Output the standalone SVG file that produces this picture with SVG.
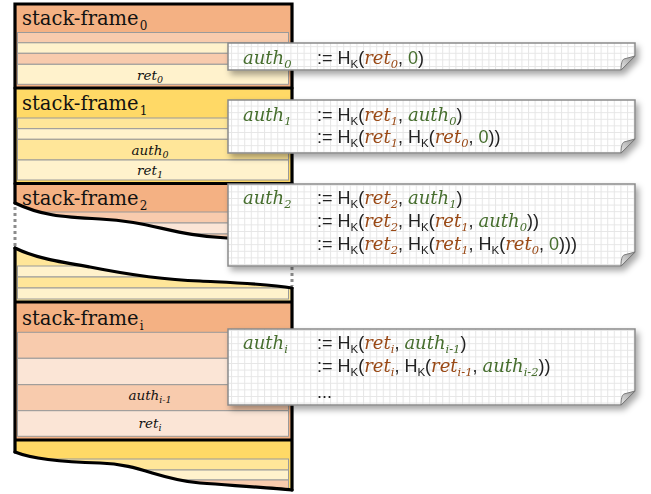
<svg xmlns="http://www.w3.org/2000/svg" width="651" height="494" viewBox="0 0 651 494">
<style>
.ln{fill:none;stroke:#000;stroke-width:3.2;stroke-linecap:round}
.row{stroke:#9a9a9a;stroke-width:1}
.o{fill:#F4B183}.p{fill:#F8CBAD}.pl{fill:#FBE5D6}.y{fill:#FFD966}.yl{fill:#FFE699}.c{fill:#FFF2CC}
.lbl{font-family:'DejaVu Serif',serif;font-size:19.5px;fill:#111}
.rl{font-family:'DejaVu Serif',serif;font-style:italic;font-size:13.5px;fill:#111}
.eq{font-family:'Liberation Sans',sans-serif;font-size:18px;fill:#222}
.it{font-family:'DejaVu Serif',serif;font-style:italic}
.g{fill:#466e2e}.b{fill:#9a4a17}
.note{fill:url(#grid);stroke:#8a8a8a;stroke-width:1.5}
.flap{fill:url(#fg);stroke:#7a7a7a;stroke-width:1}
.dot{stroke:#8c8c8c;stroke-width:3;stroke-dasharray:3 3}
</style>
<defs>
<pattern id="grid" patternUnits="userSpaceOnUse" width="6.6" height="6.6">
<rect width="6.6" height="6.6" fill="#fff"/>
<path d="M0,0.5H6.6M0.5,0V6.6" stroke="#e6e6e6" stroke-width="1"/>
</pattern>
<linearGradient id="fg" x1="0" y1="1" x2="1" y2="0">
<stop offset="0" stop-color="#e8e8e8"/><stop offset="1" stop-color="#999"/>
</linearGradient>
<filter id="sh" x="-5%" y="-20%" width="115%" height="160%">
<feDropShadow dx="3" dy="4" stdDeviation="3" flood-color="#000" flood-opacity="0.35"/>
</filter>
<clipPath id="c2"><path d="M15,183.5H292V240C270,240 250,239 227,238C175,236 150,221 100,219C60,217 40,215 15,203Z"/></clipPath>
<clipPath id="c3"><path d="M15,248C35,258 60,262 90,267C130,275 170,280 200,281C240,283 270,284 292,288V302H15Z"/></clipPath>
<clipPath id="c5"><path d="M15,440H292V490C270,488 240,486 200,483C160,480 140,464 100,463C60,462 30,458 15,452Z"/></clipPath>
</defs>

<g id="stack-frame-0">
<rect class="o" x="15" y="4" width="277" height="84"/>
<rect class="row p" x="17.5" y="32.5" width="271" height="10.3"/>
<rect class="row c" x="17.5" y="42.8" width="271" height="10.5"/>
<rect class="row p" x="17.5" y="53.3" width="271" height="11"/>
<rect class="row c" x="17.5" y="64.3" width="271" height="20"/>
<text class="lbl" x="22" y="25">stack-frame<tspan font-size="12" dx="1" dy="5">0</tspan></text>
<text class="rl" x="150" y="80" text-anchor="middle">ret<tspan font-size="9.5" dy="3">0</tspan></text>
</g>

<g id="stack-frame-1">
<rect class="y" x="15" y="88" width="277" height="95.5"/>
<rect class="row yl" x="17.5" y="118" width="271" height="10.7"/>
<rect class="row c" x="17.5" y="128.7" width="271" height="10.6"/>
<rect class="row yl" x="17.5" y="139.3" width="271" height="20.7"/>
<rect class="row c" x="17.5" y="160" width="271" height="20"/>
<text class="lbl" x="22" y="110">stack-frame<tspan font-size="12" dx="1" dy="5">1</tspan></text>
<text class="rl" x="150" y="155" text-anchor="middle">auth<tspan font-size="9.5" dy="3">0</tspan></text>
<text class="rl" x="150" y="175" text-anchor="middle">ret<tspan font-size="9.5" dy="3">1</tspan></text>
</g>

<g id="stack-frame-2">
<g clip-path="url(#c2)">
<rect class="o" x="15" y="183.5" width="277" height="60"/>
<rect class="row p" x="17.5" y="212" width="271" height="11"/>
<rect class="row pl" x="17.5" y="223" width="271" height="11"/>
<rect class="row p" x="17.5" y="234" width="271" height="11"/>
</g>
<text class="lbl" x="22" y="205">stack-frame<tspan font-size="12" dx="1" dy="5">2</tspan></text>
</g>

<g id="stack-frame-gap">
<g clip-path="url(#c3)">
<rect class="yl" x="15" y="245" width="277" height="57"/>
<rect class="row c" x="17.5" y="266" width="271" height="11"/>
<rect class="row yl" x="17.5" y="277" width="271" height="11"/>
<rect class="row c" x="17.5" y="288" width="271" height="11"/>
</g>
</g>

<g id="stack-frame-i">
<rect class="o" x="15" y="302" width="277" height="138"/>
<rect class="row p" x="17.5" y="332.3" width="271" height="26"/>
<rect class="row pl" x="17.5" y="358.3" width="271" height="26.4"/>
<rect class="row p" x="17.5" y="384.7" width="271" height="26"/>
<rect class="row pl" x="17.5" y="410.7" width="271" height="25.6"/>
<text class="lbl" x="22" y="325">stack-frame<tspan font-size="12" dx="1" dy="5">i</tspan></text>
<text class="rl" x="150" y="400" text-anchor="middle">auth<tspan font-size="9.5" dy="3">i-1</tspan></text>
<text class="rl" x="150" y="428" text-anchor="middle">ret<tspan font-size="9.5" dy="3">i</tspan></text>
</g>

<g id="stack-frame-bottom">
<g clip-path="url(#c5)">
<rect class="y" x="15" y="440" width="277" height="52"/>
<rect class="row yl" x="17.5" y="459" width="271" height="11"/>
<rect class="row c" x="17.5" y="470" width="271" height="10"/>
<rect class="row p" x="17.5" y="480" width="271" height="14"/>
</g>
</g>

<g id="borders">
<path class="ln" d="M15,203V4H292V240"/>
<path class="ln" d="M15,88H292M15,183.5H292"/>
<path class="ln" d="M15,203C40,215 60,217 100,219C150,221 175,236 227,238C250,239 270,240 292,240"/>
<path class="ln" d="M15,248C35,258 60,262 90,267C130,275 170,280 200,281C240,283 270,284 292,288"/>
<path class="ln" d="M15,248V452M292,288V490M15,302H292M15,440H292"/>
<path class="ln" d="M15,452C30,458 60,462 100,463C140,464 160,480 200,483C240,486 270,488 292,490"/>
<path class="dot" d="M15,207V246M292,243V286"/>
</g>

<g id="note-0" filter="url(#sh)">
<path class="note" d="M228,43H635V56L621,70H228Z"/>
<path class="flap" d="M635,56L621,70C621,64 622,60 624,59Z"/>
<text class="eq" x="243" y="64"><tspan class="it g">auth<tspan font-size="11.5" dy="4">0</tspan></tspan></text>
<text class="eq" x="317" y="64">:= H<tspan font-size="11.5" dy="4">K</tspan><tspan dy="-4">(</tspan><tspan class="it b">ret<tspan font-size="11.5" dy="4">0</tspan></tspan><tspan dy="-4">, </tspan><tspan class="g">0</tspan>)</text>
</g>

<g id="note-1" filter="url(#sh)">
<path class="note" d="M228,100H635V139L621,153H228Z"/>
<path class="flap" d="M635,139L621,153C621,147 622,143 624,142Z"/>
<text class="eq" x="243" y="121"><tspan class="it g">auth<tspan font-size="11.5" dy="4">1</tspan></tspan></text>
<text class="eq" x="317" y="121">:= H<tspan font-size="11.5" dy="4">K</tspan><tspan dy="-4">(</tspan><tspan class="it b">ret<tspan font-size="11.5" dy="4">1</tspan></tspan><tspan dy="-4">, </tspan><tspan class="it g">auth<tspan font-size="11.5" dy="4">0</tspan></tspan><tspan dy="-4">)</tspan></text>
<text class="eq" x="317" y="143">:= H<tspan font-size="11.5" dy="4">K</tspan><tspan dy="-4">(</tspan><tspan class="it b">ret<tspan font-size="11.5" dy="4">1</tspan></tspan><tspan dy="-4">, H</tspan><tspan font-size="11.5" dy="4">K</tspan><tspan dy="-4">(</tspan><tspan class="it b">ret<tspan font-size="11.5" dy="4">0</tspan></tspan><tspan dy="-4">, </tspan><tspan class="g">0</tspan>))</text>
</g>

<g id="note-2" filter="url(#sh)">
<path class="note" d="M228,184H635V252L621,266H228Z"/>
<path class="flap" d="M635,252L621,266C621,260 622,256 624,255Z"/>
<text class="eq" x="243" y="204"><tspan class="it g">auth<tspan font-size="11.5" dy="4">2</tspan></tspan></text>
<text class="eq" x="317" y="204">:= H<tspan font-size="11.5" dy="4">K</tspan><tspan dy="-4">(</tspan><tspan class="it b">ret<tspan font-size="11.5" dy="4">2</tspan></tspan><tspan dy="-4">, </tspan><tspan class="it g">auth<tspan font-size="11.5" dy="4">1</tspan></tspan><tspan dy="-4">)</tspan></text>
<text class="eq" x="317" y="227">:= H<tspan font-size="11.5" dy="4">K</tspan><tspan dy="-4">(</tspan><tspan class="it b">ret<tspan font-size="11.5" dy="4">2</tspan></tspan><tspan dy="-4">, H</tspan><tspan font-size="11.5" dy="4">K</tspan><tspan dy="-4">(</tspan><tspan class="it b">ret<tspan font-size="11.5" dy="4">1</tspan></tspan><tspan dy="-4">, </tspan><tspan class="it g">auth<tspan font-size="11.5" dy="4">0</tspan></tspan><tspan dy="-4">))</tspan></text>
<text class="eq" x="317" y="250">:= H<tspan font-size="11.5" dy="4">K</tspan><tspan dy="-4">(</tspan><tspan class="it b">ret<tspan font-size="11.5" dy="4">2</tspan></tspan><tspan dy="-4">, H</tspan><tspan font-size="11.5" dy="4">K</tspan><tspan dy="-4">(</tspan><tspan class="it b">ret<tspan font-size="11.5" dy="4">1</tspan></tspan><tspan dy="-4">, H</tspan><tspan font-size="11.5" dy="4">K</tspan><tspan dy="-4">(</tspan><tspan class="it b">ret<tspan font-size="11.5" dy="4">0</tspan></tspan><tspan dy="-4">, </tspan><tspan class="g">0</tspan>)))</text>
</g>

<g id="note-i" filter="url(#sh)">
<path class="note" d="M228,329H635V391L621,405H228Z"/>
<path class="flap" d="M635,391L621,405C621,399 622,395 624,394Z"/>
<text class="eq" x="243" y="349"><tspan class="it g">auth<tspan font-size="11.5" dy="4">i</tspan></tspan></text>
<text class="eq" x="317" y="349">:= H<tspan font-size="11.5" dy="4">K</tspan><tspan dy="-4">(</tspan><tspan class="it b">ret<tspan font-size="11.5" dy="4">i</tspan></tspan><tspan dy="-4">, </tspan><tspan class="it g">auth<tspan font-size="11.5" dy="4">i-1</tspan></tspan><tspan dy="-4">)</tspan></text>
<text class="eq" x="317" y="372">:= H<tspan font-size="11.5" dy="4">K</tspan><tspan dy="-4">(</tspan><tspan class="it b">ret<tspan font-size="11.5" dy="4">i</tspan></tspan><tspan dy="-4">, H</tspan><tspan font-size="11.5" dy="4">K</tspan><tspan dy="-4">(</tspan><tspan class="it b">ret<tspan font-size="11.5" dy="4">i-1</tspan></tspan><tspan dy="-4">, </tspan><tspan class="it g">auth<tspan font-size="11.5" dy="4">i-2</tspan></tspan><tspan dy="-4">))</tspan></text>
<text class="eq" x="317" y="398">...</text>
</g>
</svg>
